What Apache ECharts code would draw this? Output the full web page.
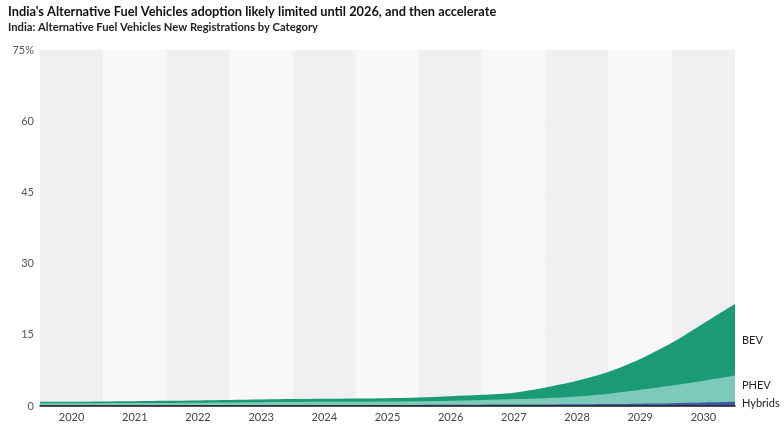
<!DOCTYPE html>
<html><head><meta charset="utf-8">
<script src="https://cdn.jsdelivr.net/npm/echarts@6/dist/echarts.min.js"></script>
<style>html,body{margin:0;padding:0;background:#fff}#c{width:784px;height:425px}</style>
</head><body><div id="c"></div>
<script>
const years = ['2020','2021','2022','2023','2024','2025','2026','2027','2028','2029','2030'];
const xPoints = [2019.5,2020,2020.5,2021,2021.5,2022,2022.5,2023,2023.5,2024,2024.5,2025,2025.5,2026,2026.5,2027,2027.5,2028,2028.5,2029,2029.5,2030,2030.5];
const hybrids = [0.15,0.15,0.15,0.16,0.16,0.17,0.18,0.18,0.19,0.2,0.2,0.21,0.22,0.24,0.26,0.29,0.32,0.36,0.42,0.5,0.6,0.75,0.9];
const phev = [0.4,0.42,0.45,0.46,0.49,0.53,0.57,0.62,0.64,0.67,0.7,0.74,0.78,0.86,0.99,1.16,1.33,1.64,2.18,2.9,3.7,4.55,5.5];
const bev = [0.35,0.35,0.37,0.4,0.43,0.45,0.5,0.55,0.62,0.65,0.68,0.7,0.8,0.95,1.1,1.35,2.25,3.3,4.6,6.5,9.0,12.1,15.1];
const yTicks = [0,15,30,45,60,75];

const FONT = 'Lato';
const chart = echarts.init(document.getElementById('c'), null, {renderer:'canvas'});
// cumulative stacks (computed from the raw series)
const cumH = hybrids.slice();
const cumP = phev.map((v,i)=>v+cumH[i]);
const cumB = bev.map((v,i)=>v+cumP[i]);
function pairs(arr){ return arr.map((v,i)=>[xPoints[i], +v.toFixed(4)]); }
const areaSeries = (name, data, color, z) => ({
  name, type:'line', smooth:0.3, symbol:'none', xAxisIndex:0, yAxisIndex:0,
  lineStyle:{width:0}, areaStyle:{color, opacity:1, origin:'start'}, data:pairs(data), z
});
chart.setOption({
  animation:false,
  textStyle:{fontFamily:FONT},
  title:[
    {text:"India's Alternative Fuel Vehicles adoption likely limited until 2026, and then accelerate", left:3, top:0,
     textStyle:{fontSize:12.8, fontWeight:'bold', color:'#111', fontFamily:FONT}},
    {text:'India: Alternative Fuel Vehicles New Registrations by Category', left:3, top:17,
     textStyle:{fontSize:11.2, fontWeight:'bold', color:'#222', fontFamily:FONT}}
  ],
  grid:{left:40, right:49, top:50, bottom:19, containLabel:false},
  xAxis:[
    {type:'value', min:2019.5, max:2030.5, position:'bottom',
     axisLine:{show:true, onZero:false, lineStyle:{color:'#222', width:1.5}},
     axisTick:{show:false}, axisLabel:{show:false}, splitLine:{show:false}, z:5},
    {type:'category', data:years, boundaryGap:true, position:'bottom',
     axisLine:{show:false}, axisTick:{show:false},
     axisLabel:{color:'#444', fontSize:11, margin:6, fontFamily:FONT},
     splitArea:{show:true, areaStyle:{color:['#f0f0f2','#f8f8f8']}},
     splitLine:{show:false}}
  ],
  yAxis:{type:'value', min:0, max:75, interval:15,
    axisLine:{show:false}, axisTick:{show:false},
    axisLabel:{color:'#555', fontSize:11, margin:6, fontFamily:FONT,
      formatter:v => v===75 ? '75%' : String(v)},
    splitLine:{show:true, lineStyle:{color:'#e2e2e4', width:1}}},
  series:[
    areaSeries('BEV', cumB, '#1a9b76', 2),
    areaSeries('PHEV', cumP, '#7ecab8', 3),
    areaSeries('Hybrids', cumH, '#3d5aa6', 4)
  ]
});
const last = xPoints.length-1;
const mids = [['Hybrids', cumH[last]/2], ['PHEV', (cumH[last]+cumP[last])/2], ['BEV', (cumP[last]+cumB[last])/2]];
const gx = chart.convertToPixel({xAxisIndex:0}, xPoints[last]);
const graphic = mids.map(([t,v]) => {
  let y = chart.convertToPixel({yAxisIndex:0}, v);
  if (t==='Hybrids') y = Math.min(y, 402.5);
  if (t==='PHEV') y = Math.min(y, 384.5);
  return {type:'text', left: gx+7, top: y-5, style:{text:t, fill:'#222', font:'11px '+FONT}};
});
chart.setOption({graphic});
</script></body></html>
